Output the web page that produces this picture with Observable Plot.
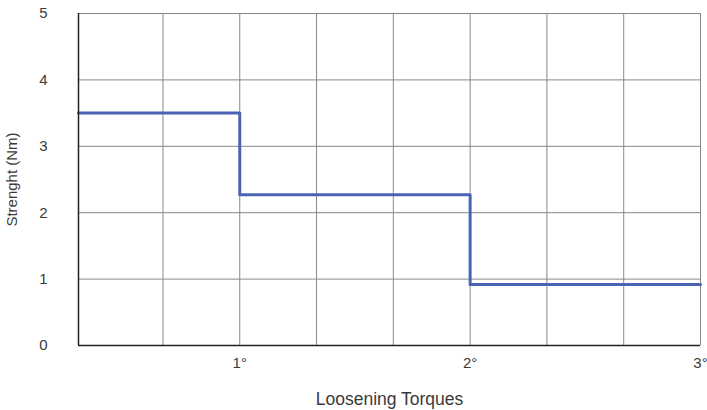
<!DOCTYPE html>
<html>
<head>
<meta charset="utf-8">
<script src="https://cdn.jsdelivr.net/npm/d3@7"></script>
<script src="https://cdn.jsdelivr.net/npm/@observablehq/plot@0.6"></script>
<style>
  body { margin: 0; background: #fff; }
  #chart svg { display: block; }
</style>
</head>
<body>
<div id="chart"></div>
<script>
const torques = [0.3, 1, 2, 3];
const strength = [3.5, 2.27, 0.92, 0.92];
const xTicks = [1, 2, 3];
const xGrid = [2/3, 1, 4/3, 5/3, 2, 7/3, 8/3, 3];
const yTicks = [0, 1, 2, 3, 4, 5];

const data = torques.map((t, i) => ({x: t, y: strength[i]}));

const chart = Plot.plot({
  width: 707,
  height: 410,
  marginLeft: 78,
  marginRight: 7,
  marginTop: 13,
  marginBottom: 65,
  style: {fontFamily: "Liberation Sans, Arial, sans-serif", color: "#3a3a3a"},
  x: {domain: [0.3, 3]},
  y: {domain: [0, 5]},
  marks: [
    Plot.gridX(xGrid, {stroke: "#888", strokeOpacity: 1, strokeWidth: 1}),
    Plot.gridY(yTicks, {stroke: "#888", strokeOpacity: 1, strokeWidth: 1}),
    Plot.axisX({ticks: xTicks, tickFormat: d => d + "°", tickSize: 0, tickPadding: 12, label: null, fontSize: 15, fill: "#3a3a3a"}),
    Plot.axisX({ticks: [], label: "Loosening Torques", labelAnchor: "center", labelOffset: 59, labelArrow: "none", fontSize: 17.5, fill: "#3a3a3a"}),
    Plot.axisY({ticks: yTicks, tickFormat: d3.format("d"), tickSize: 0, tickPadding: 31, label: null, fontSize: 15, fill: "#3a3a3a"}),
    Plot.axisY({ticks: [], label: "Strenght (Nm)", labelAnchor: "center", labelOffset: 72, labelArrow: "none", fontSize: 15, fill: "#3a3a3a"}),
    Plot.line(data, {x: "x", y: "y", curve: "step-after", stroke: "#4a63b5", strokeWidth: 3}),
    Plot.ruleX([0.3], {stroke: "#222", strokeWidth: 1.5}),
    Plot.ruleY([0], {stroke: "#222", strokeWidth: 1.5})
  ]
});
document.getElementById("chart").appendChild(chart);
</script>
</body>
</html>
